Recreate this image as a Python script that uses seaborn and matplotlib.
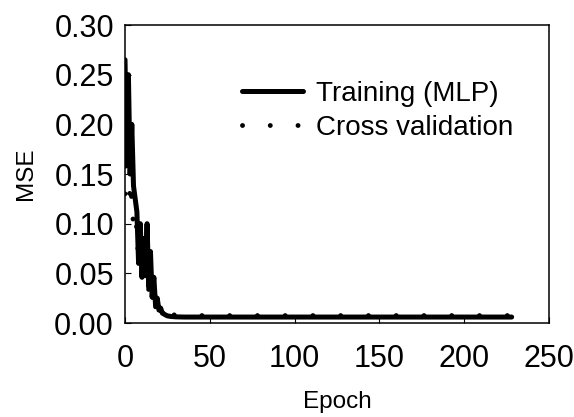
import pandas as pd
import matplotlib
matplotlib.use('Agg')
import matplotlib.pyplot as plt
import seaborn as sns

# epochs and MSE (tail is flat, so sparse points there)
epochs = [0, 1, 2, 3, 4, 5, 6, 7, 8, 9, 10, 11, 12, 13, 14, 15, 16, 17, 18, 19,
          20, 21, 22, 23, 24, 25, 27, 30, 35, 50, 100, 150, 200, 228]
train_mse = [0.265, 0.160, 0.250, 0.150, 0.200, 0.138, 0.125, 0.112, 0.060, 0.100,
             0.046, 0.085, 0.052, 0.100, 0.036, 0.072, 0.026, 0.046, 0.018, 0.025,
             0.013, 0.015, 0.010, 0.009, 0.008, 0.0072, 0.0066, 0.0062, 0.006,
             0.006, 0.006, 0.006, 0.006, 0.006]
cv_mse = [0.130, 0.200, 0.190, 0.115, 0.130, 0.095, 0.087, 0.100, 0.055, 0.090,
          0.040, 0.075, 0.045, 0.080, 0.030, 0.050, 0.022, 0.035, 0.016, 0.020,
          0.014, 0.013, 0.011, 0.010, 0.0095, 0.009, 0.0085, 0.008, 0.0075,
          0.0075, 0.0075, 0.0075, 0.0075, 0.0075]

df = pd.DataFrame({'Epoch': epochs, 'train': train_mse, 'cv': cv_mse})

sns.set_style('white')
plt.rcParams['font.family'] = ['Liberation Sans', 'DejaVu Sans']
plt.rcParams['text.color'] = 'black'
plt.rcParams['axes.labelcolor'] = 'black'
plt.rcParams['xtick.color'] = 'black'
plt.rcParams['ytick.color'] = 'black'

fig = plt.figure(figsize=(5.74, 4.17), dpi=100)
ax = fig.add_axes([0.2178, 0.2254, 0.7386, 0.7146])

# dotted line: round dots about 28 px apart
sns.lineplot(data=df, x='Epoch', y='cv', ax=ax, color='black', linewidth=3.5,
             linestyle=(0, (0.01, 5.7)), dash_capstyle='round',
             label='Cross validation')
sns.lineplot(data=df, x='Epoch', y='train', ax=ax, color='black', linewidth=3.6,
             solid_capstyle='round', label='Training (MLP)')

ax.set_xlim(0, 250)
ax.set_ylim(0, 0.30)
ax.set_xticks([0, 50, 100, 150, 200, 250])
ax.set_yticks([0.0, 0.05, 0.10, 0.15, 0.20, 0.25, 0.30])
ax.set_yticklabels([f'{v:.2f}' for v in ax.get_yticks()])
ax.tick_params(direction='in', length=4, width=0.8, color='black',
               labelsize=22, pad=8, left=True, bottom=True, top=False, right=False)
ax.tick_params(axis='x', pad=15)
for s in ax.spines.values():
    s.set_color('black')
    s.set_linewidth(1.1)

ax.set_xlabel('Epoch', fontsize=17.5, labelpad=12)
ax.set_ylabel('MSE', fontsize=17.5, labelpad=12)

handles, labels = ax.get_legend_handles_labels()
ax.legend(handles[::-1], labels[::-1], loc='upper left', bbox_to_anchor=(0.25, 0.85),
          frameon=False, fontsize=20, handlelength=2.2, handletextpad=0.45,
          labelspacing=0.3, borderaxespad=0)

plt.savefig('out.png', dpi=100)
